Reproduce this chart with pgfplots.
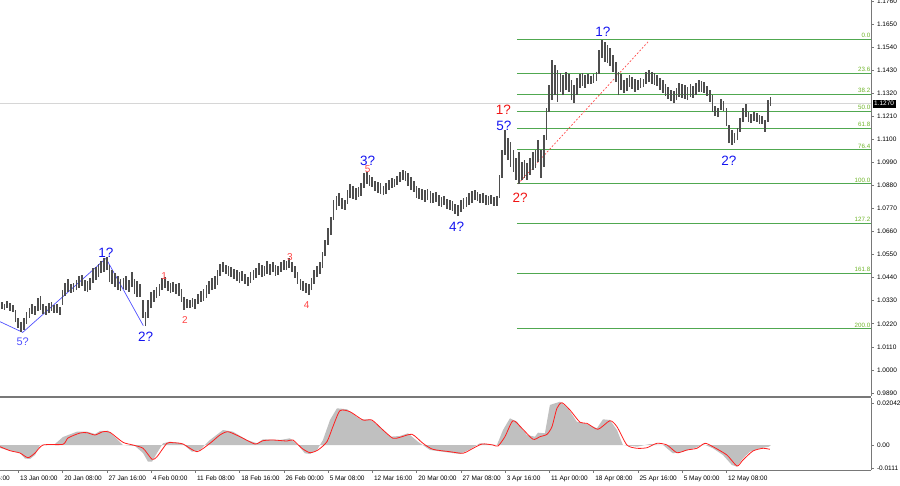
\documentclass[border=0pt]{standalone}
\usepackage{fontspec}
\setmainfont{Liberation Sans}
\usepackage{pgfplots}
\usepackage{pgfplotstable}
\pgfplotsset{compat=1.18}
\definecolor{barcol}{RGB}{78,78,78}
\definecolor{fibline}{RGB}{80,168,80}
\definecolor{fibtext}{RGB}{110,180,40}
\definecolor{wblue}{RGB}{20,20,240}
\definecolor{wblue2}{RGB}{80,80,255}
\definecolor{wred}{RGB}{240,20,20}
\definecolor{wred2}{RGB}{255,70,70}
\definecolor{histgray}{RGB}{192,192,192}
\definecolor{sigred}{RGB}{255,30,30}
\definecolor{frame}{RGB}{120,120,120}
\newcommand\ticklab{\fontsize{6.5}{7.5}\selectfont}
\newcommand\fiblab{\fontsize{6.2}{7}\selectfont}
\newcommand\wavebig{\fontsize{13.5}{14}\selectfont}
\newcommand\wavesmall{\fontsize{10}{11}\selectfont}

% H4 bars: bar number, low, high
\pgfplotstableread{
b l h
-12 1.0290 1.0324
-10 1.0286 1.0314
-8 1.0295 1.0329
-6 1.0281 1.0319
-4 1.0276 1.0310
-2 1.0228 1.0286
0 1.0200 1.0248
2 1.0181 1.0228
4 1.0190 1.0248
6 1.0219 1.0276
8 1.0248 1.0295
10 1.0267 1.0314
12 1.0262 1.0305
14 1.0281 1.0343
16 1.0286 1.0353
18 1.0267 1.0314
20 1.0262 1.0305
22 1.0271 1.0319
24 1.0281 1.0324
26 1.0271 1.0310
28 1.0271 1.0314
30 1.0262 1.0300
32 1.0310 1.0381
34 1.0353 1.0414
36 1.0372 1.0434
38 1.0367 1.0410
40 1.0372 1.0414
42 1.0381 1.0429
44 1.0391 1.0448
46 1.0400 1.0453
48 1.0376 1.0429
50 1.0372 1.0424
52 1.0381 1.0438
54 1.0414 1.0486
56 1.0429 1.0491
58 1.0443 1.0505
60 1.0462 1.0519
62 1.0467 1.0534
64 1.0476 1.0538
66 1.0419 1.0500
68 1.0410 1.0476
70 1.0395 1.0462
72 1.0381 1.0448
74 1.0376 1.0434
76 1.0386 1.0438
78 1.0381 1.0448
80 1.0372 1.0429
82 1.0395 1.0467
84 1.0362 1.0434
86 1.0348 1.0424
88 1.0348 1.0410
90 1.0248 1.0333
92 1.0209 1.0276
94 1.0248 1.0333
96 1.0295 1.0372
98 1.0324 1.0381
100 1.0343 1.0395
102 1.0353 1.0410
104 1.0381 1.0438
106 1.0391 1.0443
108 1.0376 1.0424
110 1.0367 1.0414
112 1.0372 1.0419
114 1.0362 1.0410
116 1.0353 1.0414
118 1.0324 1.0386
120 1.0286 1.0348
122 1.0295 1.0338
124 1.0295 1.0333
126 1.0300 1.0343
128 1.0290 1.0338
130 1.0314 1.0362
132 1.0324 1.0376
134 1.0329 1.0386
136 1.0343 1.0405
138 1.0362 1.0424
140 1.0381 1.0438
142 1.0386 1.0448
144 1.0405 1.0476
146 1.0448 1.0505
148 1.0467 1.0515
150 1.0457 1.0500
152 1.0448 1.0496
154 1.0443 1.0491
156 1.0434 1.0481
158 1.0424 1.0476
160 1.0414 1.0467
162 1.0424 1.0472
164 1.0410 1.0457
166 1.0400 1.0443
168 1.0414 1.0467
170 1.0429 1.0476
172 1.0438 1.0486
174 1.0453 1.0510
176 1.0443 1.0500
178 1.0448 1.0496
180 1.0457 1.0519
182 1.0453 1.0505
184 1.0467 1.0515
186 1.0448 1.0500
188 1.0453 1.0496
190 1.0467 1.0515
192 1.0476 1.0524
194 1.0476 1.0519
196 1.0486 1.0534
198 1.0467 1.0515
200 1.0438 1.0496
202 1.0410 1.0467
204 1.0381 1.0434
206 1.0376 1.0424
208 1.0367 1.0414
210 1.0357 1.0410
212 1.0381 1.0438
214 1.0410 1.0476
216 1.0443 1.0496
218 1.0457 1.0515
220 1.0486 1.0562
222 1.0543 1.0620
224 1.0596 1.0677
226 1.0643 1.0729
228 1.0715 1.0810
230 1.0763 1.0830
232 1.0782 1.0844
234 1.0767 1.0820
236 1.0763 1.0810
238 1.0791 1.0858
240 1.0820 1.0887
242 1.0815 1.0877
244 1.0810 1.0868
246 1.0825 1.0873
248 1.0830 1.0892
250 1.0868 1.0939
252 1.0887 1.0944
254 1.0877 1.0930
256 1.0873 1.0920
258 1.0854 1.0901
260 1.0844 1.0896
262 1.0839 1.0892
264 1.0834 1.0877
266 1.0839 1.0892
268 1.0858 1.0906
270 1.0868 1.0916
272 1.0873 1.0911
274 1.0882 1.0925
276 1.0896 1.0944
278 1.0906 1.0954
280 1.0901 1.0949
282 1.0877 1.0939
284 1.0858 1.0920
286 1.0849 1.0901
288 1.0820 1.0877
290 1.0815 1.0868
292 1.0810 1.0863
294 1.0801 1.0858
296 1.0810 1.0863
298 1.0796 1.0854
300 1.0796 1.0844
302 1.0801 1.0849
304 1.0782 1.0834
306 1.0777 1.0825
308 1.0786 1.0830
310 1.0767 1.0815
312 1.0763 1.0810
314 1.0758 1.0806
316 1.0744 1.0791
318 1.0734 1.0786
320 1.0753 1.0810
322 1.0767 1.0820
324 1.0777 1.0825
326 1.0786 1.0844
328 1.0796 1.0854
330 1.0810 1.0858
332 1.0806 1.0849
334 1.0796 1.0839
336 1.0796 1.0844
338 1.0786 1.0834
340 1.0786 1.0830
342 1.0791 1.0834
344 1.0782 1.0825
346 1.0782 1.0830
348 1.0820 1.0930
350 1.0916 1.1049
352 1.1025 1.1144
354 1.1001 1.1106
356 1.0968 1.1087
358 1.0944 1.1049
360 1.0906 1.1011
362 1.0887 1.1039
364 1.0906 1.0992
366 1.0916 1.1001
368 1.0906 1.0987
370 1.0930 1.1011
372 1.0954 1.1039
374 1.0963 1.1049
376 1.0992 1.1097
378 1.0916 1.1049
380 1.0968 1.1120
382 1.1097 1.1249
384 1.1230 1.1359
386 1.1287 1.1478
388 1.1311 1.1454
390 1.1278 1.1431
392 1.1326 1.1416
394 1.1311 1.1407
396 1.1335 1.1421
398 1.1326 1.1411
400 1.1287 1.1383
402 1.1273 1.1359
404 1.1311 1.1392
406 1.1345 1.1411
408 1.1354 1.1416
410 1.1345 1.1407
412 1.1364 1.1411
414 1.1364 1.1402
416 1.1368 1.1411
418 1.1378 1.1421
420 1.1411 1.1526
422 1.1488 1.1574
424 1.1469 1.1564
426 1.1464 1.1550
428 1.1450 1.1535
430 1.1421 1.1502
432 1.1373 1.1469
434 1.1311 1.1421
436 1.1335 1.1411
438 1.1321 1.1383
440 1.1330 1.1392
442 1.1349 1.1407
444 1.1340 1.1397
446 1.1326 1.1388
448 1.1335 1.1383
450 1.1345 1.1392
452 1.1349 1.1388
454 1.1364 1.1421
456 1.1373 1.1431
458 1.1364 1.1421
460 1.1359 1.1416
462 1.1354 1.1407
464 1.1335 1.1392
466 1.1321 1.1383
468 1.1307 1.1364
470 1.1292 1.1349
472 1.1282 1.1335
474 1.1273 1.1330
476 1.1287 1.1345
478 1.1302 1.1368
480 1.1297 1.1364
482 1.1292 1.1359
484 1.1287 1.1349
486 1.1302 1.1364
488 1.1297 1.1354
490 1.1311 1.1368
492 1.1326 1.1383
494 1.1326 1.1378
496 1.1321 1.1373
498 1.1307 1.1354
500 1.1278 1.1335
502 1.1230 1.1311
504 1.1211 1.1259
506 1.1206 1.1249
508 1.1240 1.1292
510 1.1235 1.1282
512 1.1163 1.1249
514 1.1082 1.1168
516 1.1073 1.1144
518 1.1082 1.1130
520 1.1097 1.1154
522 1.1135 1.1202
524 1.1183 1.1249
526 1.1206 1.1268
528 1.1183 1.1230
530 1.1178 1.1221
532 1.1187 1.1230
534 1.1183 1.1225
536 1.1173 1.1216
538 1.1173 1.1211
540 1.1135 1.1192
542 1.1183 1.1287
544 1.1259 1.1302
}\bars

% MACD histogram (outline of the grey bars)
\pgfplotstableread{
x v
-13.23 0
-13.2 -0.00146
1.2 -0.00389
4.8 -0.00656
8.5 -0.00681
12.1 -0.00486
15.7 0
26.5 0.00049
32.3 0.00389
42.4 0.00647
49.7 0.00647
55.5 0.00535
59.1 0.00681
64.9 0.00695
72.1 0.00243
75.7 0
84.4 -0.00049
90.2 -0.00389
93.8 -0.00812
96.7 -0.00812
100.3 -0.00389
104.6 0.00083
109.7 0.00160
118.4 0.00083
125.6 -0.00326
131.4 -0.00243
138.6 0.00243
148.0 0.00729
155.2 0.00647
165.4 0.00243
172.6 0.00083
176.9 0.00277
189.2 0.00243
196.4 0.00326
202.2 0
207.3 -0.00404
210.9 -0.00438
216.0 -0.00243
220.3 0.00243
225.4 0.01215
230.4 0.01784
237.7 0.01736
247.1 0.01249
254.3 0.01249
261.5 0.00890
268.8 0.00404
276.0 0.00438
281.8 0.00569
289.0 0.00160
297.7 -0.00243
312.1 -0.00374
319.4 -0.00438
326.6 -0.00209
333.8 0.00083
346.1 0
350.5 0.00729
355.5 0.01298
360.6 0.01133
367.8 0.00486
373.6 0.00404
375.8 0.00598
380.8 0.00569
384.4 0.01945
391.7 0.02105
397.5 0.01784
403.9 0.01133
411.2 0.01021
418.4 0.00812
422.8 0.01249
427.8 0.01215
432.9 0.00729
437.2 0
447.4 -0.00083
456.8 0.00049
466.2 0
473.4 -0.00404
480.6 -0.00326
490.7 -0.00112
495.1 0.00049
502.3 -0.00160
509.5 -0.00486
516.0 -0.00972
519.7 -0.01055
524.0 -0.00647
529.1 -0.00326
536.3 -0.00160
542.8 -0.00083
544.2 0
}\hist

% MACD signal line
\pgfplotstableread{
x v
-13.2 -0.00083
-6.0 -0.00277
1.2 -0.00389
7.0 -0.00617
12.1 -0.00389
17.9 0
32.3 0.00034
35.9 0.00340
44.6 0.00583
49.7 0.00598
55.5 0.00486
61.2 0.00647
66.3 0.00617
75.7 0.00131
82.9 0
90.2 -0.00160
96.7 -0.00695
100.3 -0.00569
107.5 0.00083
111.9 0.00112
119.1 0.00049
129.2 -0.00326
138.6 0.00083
145.8 0.00486
151.6 0.00647
160.3 0.00404
171.1 0.00049
176.9 0.00209
184.2 0.00243
194.3 0.00194
198.6 0.00243
205.1 -0.00160
210.9 -0.00374
216.7 -0.00243
223.2 0.00160
227.5 0.00890
232.6 0.01667
239.8 0.01619
249.2 0.01215
255.7 0.01215
263.7 0.00729
270.9 0.00326
276.0 0.00374
284.7 0.00520
292.6 0.00083
299.8 -0.00209
312.1 -0.00326
321.5 -0.00404
326.6 -0.00243
335.3 0.00049
343.2 0
346.9 -0.00049
351.9 0.00404
357.7 0.01181
364.2 0.00812
372.2 0.00277
377.2 0.00404
382.3 0.00520
385.9 0.00890
389.5 0.01784
393.1 0.02056
398.9 0.01702
406.2 0.01104
411.2 0.01055
419.2 0.00763
427.8 0.01181
432.9 0.00890
440.1 0
447.4 -0.00160
454.6 -0.00131
461.8 0.00083
469.1 0
476.3 -0.00374
483.5 -0.00243
490.7 -0.00160
496.5 0.00083
502.3 -0.00083
512.4 -0.00486
519.7 -0.01021
524.0 -0.00729
531.2 -0.00292
538.4 -0.00160
543.5 -0.00209
}\sig

\begin{document}
\begin{tikzpicture}
% ---- price window ----
\begin{axis}[
  at={(0pt,89pt)}, anchor=south west,
  scale only axis, width=871pt, height=396pt,
  xmin=-13.23, xmax=616.6, ymin=0.98755, ymax=1.17644,
  axis x line*=bottom, axis y line*=right,
  axis line style={-, draw=frame, line width=1pt},
  xtick=\empty,
  ytick={0.989,1.000,1.011,1.022,1.033,1.044,1.055,1.066,1.077,1.088,1.099,1.110,1.121,1.132,1.143,1.154,1.165,1.176},
  scaled y ticks=false,
  tick align=outside, major tick length=2.5pt,
  tick style={draw=frame, line width=0.6pt},
  yticklabel style={font=\ticklab, /pgf/number format/.cd, fixed, fixed zerofill, precision=4, assume math mode=true},
  clip mode=individual,
]
\addplot[black!16, line width=1.2pt] coordinates {(-13.23,1.1272) (616.6,1.1272)};

% fibo grid
\addplot[fibline, line width=1pt] coordinates {(360.6,1.1578) (616.6,1.1578)};
\addplot[fibline, line width=1pt] coordinates {(360.6,1.1415) (616.6,1.1415)};
\addplot[fibline, line width=1pt] coordinates {(360.6,1.1314) (616.6,1.1314)};
\addplot[fibline, line width=1pt] coordinates {(360.6,1.1233) (616.6,1.1233)};
\addplot[fibline, line width=1pt] coordinates {(360.6,1.1151) (616.6,1.1151)};
\addplot[fibline, line width=1pt] coordinates {(360.6,1.1050) (616.6,1.1050)};
\addplot[fibline, line width=1pt] coordinates {(360.6,1.0887) (616.6,1.0887)};
\addplot[fibline, line width=1pt] coordinates {(360.6,1.0699) (616.6,1.0699)};
\addplot[fibline, line width=1pt] coordinates {(360.6,1.0460) (616.6,1.0460)};
\addplot[fibline, line width=1pt] coordinates {(360.6,1.0196) (616.6,1.0196)};

\addplot[wblue2, line width=0.7pt] coordinates {(-13.23,1.0230) (3.2,1.0179) (63.4,1.0532) (90.4,1.0211)};
\addplot[wred2, line width=0.7pt, dash pattern=on 1.8pt off 1.8pt] coordinates {(361.3,1.0887) (456.0,1.1569)};

% price bars
\addplot[quiver={u=0, v=\thisrow{h}-\thisrow{l}}, draw=barcol, line width=1.7pt, mark=none] table[x=b, y=l] {\bars};

% fibo level captions
\begin{scope}[every node/.style={anchor=south east, text=fibtext, font=\fiblab, inner sep=0.6pt, yshift=0.8pt}]
\node at (axis cs:616.6,1.1578) {0.0};
\node at (axis cs:616.6,1.1415) {23.6};
\node at (axis cs:616.6,1.1314) {38.2};
\node at (axis cs:616.6,1.1233) {50.0};
\node at (axis cs:616.6,1.1151) {61.8};
\node at (axis cs:616.6,1.1050) {76.4};
\node at (axis cs:616.6,1.0887) {100.0};
\node at (axis cs:616.6,1.0699) {127.2};
\node at (axis cs:616.6,1.0460) {161.8};
\node at (axis cs:616.6,1.0196) {200.0};
\end{scope}

% wave counts
\node[text=wblue2, font=\fontsize{11}{12}\selectfont] at (axis cs:3.2,1.0135) {5?};
\node[text=wblue, font=\wavebig] at (axis cs:63.4,1.0558) {1?};
\node[text=wblue, font=\wavebig] at (axis cs:92.1,1.0158) {2?};
\node[text=wred2, font=\wavesmall] at (axis cs:105.4,1.0448) {1};
\node[text=wred2, font=\wavesmall] at (axis cs:120.5,1.0238) {2};
\node[text=wred2, font=\wavesmall] at (axis cs:196.4,1.0537) {3};
\node[text=wred2, font=\wavesmall] at (axis cs:208.5,1.0310) {4};
\node[text=wblue, font=\wavebig] at (axis cs:252.6,1.0996) {3?};
\node[text=wred2, font=\wavesmall] at (axis cs:252.6,1.0957) {5};
\node[text=wblue, font=\wavebig] at (axis cs:317.0,1.0683) {4?};
\node[text=wred, font=\wavebig] at (axis cs:350.7,1.1243) {1?};
\node[text=wblue, font=\wavebig] at (axis cs:351.2,1.1165) {5?};
\node[text=wred, font=\wavebig] at (axis cs:362.8,1.0819) {2?};
\node[text=wblue, font=\wavebig] at (axis cs:422.8,1.1612) {1?};
\node[text=wblue, font=\wavebig] at (axis cs:513.9,1.0996) {2?};

\node[fill=black, text=white, font=\ticklab, anchor=west, inner xsep=1.5pt, inner ysep=1.6pt, xshift=1.5pt] at (axis cs:616.6,1.1270) {1.1270};
\end{axis}

% ---- oscillator window ----
\begin{axis}[
  at={(0pt,15pt)}, anchor=south west,
  scale only axis, width=871pt, height=72.5pt,
  xmin=-13.23, xmax=616.6, ymin=-0.01215, ymax=0.02309,
  axis x line*=bottom, axis y line*=right,
  axis line style={-, draw=frame, line width=1pt},
  tick align=outside, major tick length=2.5pt,
  tick style={draw=frame, line width=0.6pt},
  scaled y ticks=false,
  xtick={0,32,...,512},
  xticklabels={13 Jan 00:00,20 Jan 08:00,27 Jan 16:00,4 Feb 00:00,11 Feb 08:00,18 Feb 16:00,26 Feb 00:00,5 Mar 08:00,12 Mar 16:00,20 Mar 00:00,27 Mar 08:00,3 Apr 16:00,11 Apr 00:00,18 Apr 08:00,25 Apr 16:00,5 May 00:00,12 May 08:00},
  xticklabel style={anchor=north west, font=\ticklab, xshift=-1.8pt},
  ytick={-0.0111,0,0.02042},
  yticklabels={-0.0111,0.00,0.02042},
  yticklabel style={font=\ticklab},
  clip mode=individual,
]
\addplot[fill=histgray, draw=none] table[x=x, y=v] {\hist} -- cycle;
\addplot[sigred, line width=0.8pt, smooth, tension=0.4] table[x=x, y=v] {\sig};
\draw[frame, line width=1pt] (rel axis cs:0,1) -- (rel axis cs:1,1);
\node[anchor=north west, font=\ticklab, xshift=-1.8pt, yshift=-2.5pt, inner sep=0.333em] at (axis cs:-32,-0.01215) {3 Jan 16:00};
\end{axis}
\pgfresetboundingbox
\path[use as bounding box] (0,0) rectangle (900pt,485pt);
\end{tikzpicture}
\end{document}
